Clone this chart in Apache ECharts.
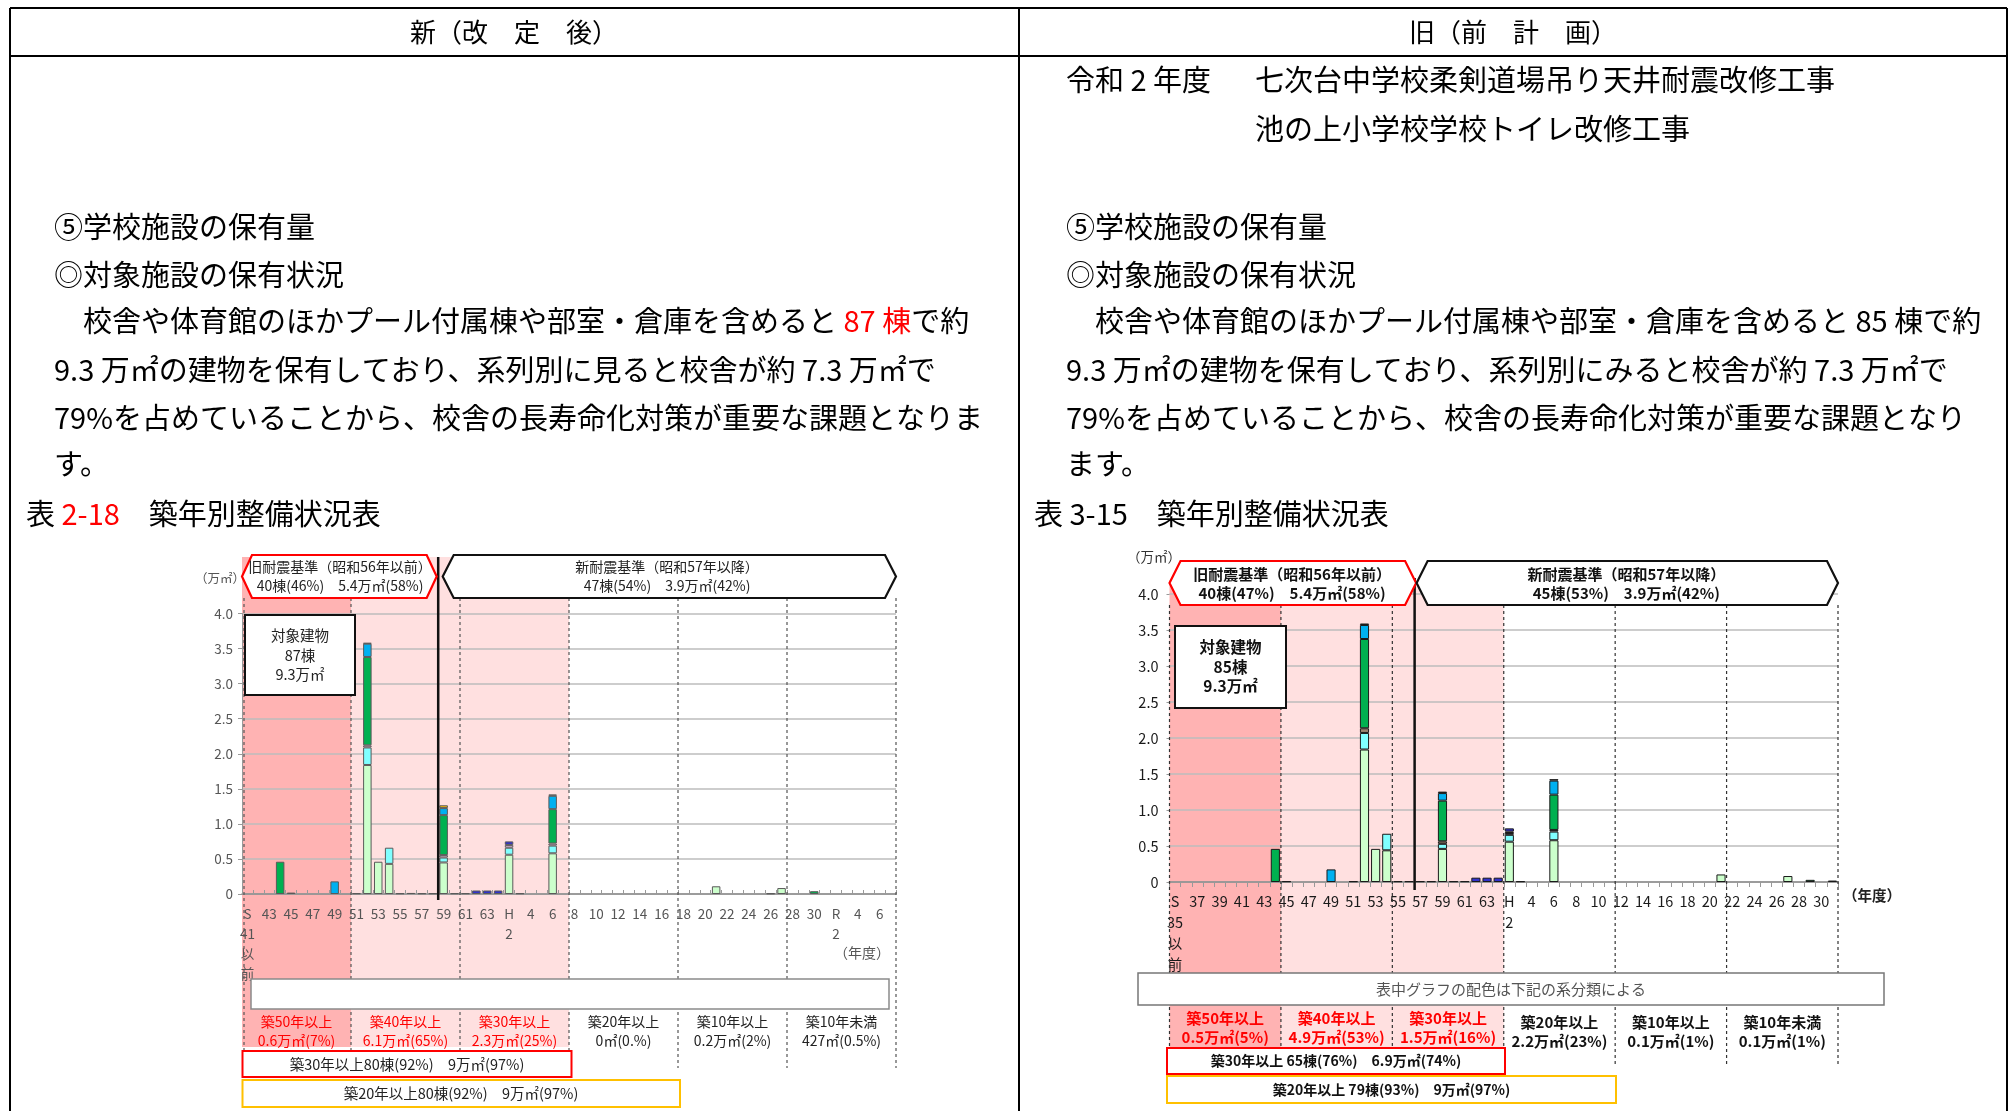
<!DOCTYPE html>
<html>
<head>
<meta charset="utf-8">
<script src="https://cdn.jsdelivr.net/npm/echarts@6/dist/echarts.min.js"></script>
<style>
  html, body { margin: 0; padding: 0; background: #fff; }
  #main { width: 2015px; height: 1111px; }
</style>
</head>
<body>
<div id="main"></div>
<script>
// ---- categories (fiscal years of construction) ----
const yearsNew = ['S41以前','S42','S43','S44','S45','S46','S47','S48','S49','S50','S51','S52','S53','S54','S55','S56','S57','S58','S59','S60','S61','S62','S63',
  'H1','H2','H3','H4','H5','H6','H7','H8','H9','H10','H11','H12','H13','H14','H15','H16','H17','H18','H19','H20','H21','H22','H23','H24','H25','H26','H27','H28','H29','H30',
  'R1','R2','R3','R4','R5','R6','R7'];
const yearsOld = ['S35以前','S36','S37','S38','S39','S40','S41','S42','S43','S44','S45','S46','S47','S48','S49','S50','S51','S52','S53','S54','S55','S56','S57','S58','S59','S60','S61','S62','S63',
  'H1','H2','H3','H4','H5','H6','H7','H8','H9','H10','H11','H12','H13','H14','H15','H16','H17','H18','H19','H20','H21','H22','H23','H24','H25','H26','H27','H28','H29','H30','H31'];

// tick labels, one for every second year
const ticksNew = ['S\n41\n以\n前','43','45','47','49','51','53','55','57','59','61','63','H\n2','4','6','8','10','12','14','16','18','20','22','24','26','28','30','R\n2','4','6'];
const ticksOld = ['S\n35\n以\n前','37','39','41','43','45','47','49','51','53','55','57','59','61','63','H\n2','4','6','8','10','12','14','16','18','20','22','24','26','28','30'];

// ---- floor area by building group (万㎡), revised plan ----
const newKousha = [['S52',1.84],['S53',0.46],['S54',0.43],['S59',0.45],['H2',0.56],['H6',0.58],['H21',0.11],['H27',0.085]];
const newCyan   = [['S52',0.25],['S54',0.23],['S59',0.07],['H2',0.10],['H6',0.11]];
const newThin   = [['S52',0.03],['S59',0.035],['H2',0.04],['H6',0.03]];
const newGreen  = [['S44',0.46],['S52',1.26],['S59',0.57],['H6',0.49],['H30',0.04]];
const newBlue   = [['S49',0.18],['S52',0.19],['S59',0.10],['H6',0.19]];
const newOrange = [['S59',0.04]];
const newNavy   = [['S62',0.05],['S63',0.05],['H1',0.05],['H2',0.05]];
const newOther  = [['S45',0.02],['S51',0.01],['S52',0.01],['S55',0.01],['S56',0.015],['S57',0.01],['S58',0.01],['S60',0.01],['S61',0.01],['H3',0.01],['H6',0.02],['H26',0.008]];

// ---- floor area by building group (万㎡), previous plan ----
const oldKousha = [['S52',1.84],['S53',0.46],['S54',0.44],['S59',0.46],['H2',0.56],['H6',0.58],['H21',0.105],['H27',0.083]];
const oldCyan   = [['S52',0.23],['S54',0.23],['S59',0.07],['H2',0.095],['H6',0.12]];
const oldThin   = [['S52',0.065],['S59',0.035],['H2',0.025],['H6',0.023]];
const oldGreen  = [['S44',0.46],['S52',1.24],['S59',0.565],['H6',0.49],['H29',0.03]];
const oldBlue   = [['S49',0.175],['S52',0.195],['S59',0.105],['H6',0.195]];
const oldOrange = [['H2',0.02]];
const oldNavy   = [['S62',0.06],['S63',0.06],['H1',0.06],['H2',0.045]];
const oldOther  = [['S45',0.01],['S51',0.01],['S52',0.02],['S55',0.01],['S56',0.01],['S57',0.01],['S58',0.01],['S59',0.02],['S60',0.01],['S61',0.01],['H3',0.01],['H6',0.02],['H31',0.02]];

const groupNames = ['校舎','校舎（増築）','渡り廊下','屋内運動場','武道場','給食室','プール付属棟','部室・倉庫'];

// age-band captions under each chart
const bandNew = [
  ['築50年以上','0.6万㎡(7%)'],['築40年以上','6.1万㎡(65%)'],['築30年以上','2.3万㎡(25%)'],
  ['築20年以上','0㎡(0.%)'],['築10年以上','0.2万㎡(2%)'],['築10年未満','427㎡(0.5%)']
];
const bandOld = [
  ['築50年以上','0.5万㎡(5%)'],['築40年以上','4.9万㎡(53%)'],['築30年以上','1.5万㎡(16%)'],
  ['築20年以上','2.2万㎡(23%)'],['築10年以上','0.1万㎡(1%)'],['築10年未満','0.1万㎡(1%)']
];

const FONT = '"Noto Sans CJK JP", "Noto Sans", sans-serif';

function toArray(cats, pairs) {
  const arr = cats.map(() => '-');
  pairs.forEach(([k, v]) => { arr[cats.indexOf(k)] = v; });
  return arr;
}

function barSeries(gi, cats, sets, colors, border, width) {
  return sets.map((s, i) => ({
    name: groupNames[i], type: 'bar', xAxisIndex: gi, yAxisIndex: gi,
    stack: 'area' + gi, barWidth: width,
    itemStyle: { color: colors[i], borderColor: border, borderWidth: 1 },
    data: toArray(cats, s)
  }));
}

const colorsNew = ['#CCFFCC','#80FFFF','#E4B8DC','#00B050','#00B0F0','#FFC000','#3333CC','#B49A72'];
const colorsOld = ['#CCFFCC','#80FFFF','#9C8470','#00B050','#00B0F0','#FFC000','#3333CC','#8C8C8C'];

const yFmt = v => (v === 0 ? '0' : v.toFixed(1));

const chart = echarts.init(document.getElementById('main'), null, { width: 2015, height: 1111 });

chart.setOption({
  animation: false,
  backgroundColor: '#fff',
  grid: [
    { left: 242, top: 613.5, width: 654, height: 280.5 },
    { left: 1169.5, top: 594, width: 668.5, height: 288 }
  ],
  xAxis: [
    {
      type: 'category', gridIndex: 0, data: yearsNew,
      axisLine: { lineStyle: { color: '#8c8c8c', width: 1.5 } },
      axisTick: { show: true, interval: 0, inside: true, length: 4, lineStyle: { color: '#999' } },
      axisLabel: {
        interval: 0, margin: 10, color: '#555', fontSize: 13.5, lineHeight: 20, fontFamily: FONT,
        formatter: (v, i) => (i % 2 === 0 ? ticksNew[i / 2] : '')
      },
      splitLine: { show: false }
    },
    {
      type: 'category', gridIndex: 1, data: yearsOld,
      axisLine: { lineStyle: { color: '#8c8c8c', width: 1.5 } },
      axisTick: { show: true, interval: 0, length: 5, lineStyle: { color: '#999' } },
      axisLabel: {
        interval: 0, margin: 9, color: '#1a1a1a', fontSize: 14.5, lineHeight: 21, fontFamily: FONT,
        formatter: (v, i) => (i % 2 === 0 ? ticksOld[i / 2] : '')
      },
      splitLine: { show: false }
    }
  ],
  yAxis: [
    {
      type: 'value', gridIndex: 0, min: 0, max: 4, interval: 0.5,
      axisLine: { show: true, lineStyle: { color: '#999' } },
      axisTick: { show: true, length: 4, lineStyle: { color: '#999' } },
      axisLabel: { formatter: yFmt, color: '#555', fontSize: 13.5, margin: 9, fontFamily: FONT },
      splitLine: { lineStyle: { color: '#bdbdbd', width: 1.5 } }
    },
    {
      type: 'value', gridIndex: 1, min: 0, max: 4, interval: 0.5,
      axisLine: { show: false },
      axisTick: { show: true, length: 3, lineStyle: { color: '#999' } },
      axisLabel: { formatter: yFmt, color: '#1a1a1a', fontSize: 14.5, margin: 11, fontFamily: FONT },
      splitLine: { lineStyle: { color: '#bdbdbd', width: 1.5 } }
    }
  ],
  series: [
    ...barSeries(0, yearsNew, [newKousha, newCyan, newThin, newGreen, newBlue, newOrange, newNavy, newOther], colorsNew, '#5a5a5a', '78%'),
    ...barSeries(1, yearsOld, [oldKousha, oldCyan, oldThin, oldGreen, oldBlue, oldOrange, oldNavy, oldOther], colorsOld, '#1a1a1a', '82%')
  ]
});

// ---- helpers for graphic elements ----
function text(x, y, str, o = {}) {
  return {
    type: 'text', z: o.z ?? 30,
    style: {
      x, y, text: str,
      fill: o.color || '#000',
      fontSize: o.size || 29,
      fontFamily: FONT,
      fontWeight: o.weight || 'normal',
      align: o.align || 'left', textAlign: o.align || 'left',
      verticalAlign: 'middle', textVerticalAlign: 'middle',
      lineHeight: o.lh,
      rich: o.rich
    }
  };
}
function line(x1, y1, x2, y2, stroke, w, dash, z) {
  return { type: 'line', z: z ?? 8, shape: { x1, y1, x2, y2 }, style: { stroke, lineWidth: w, lineDash: dash || null } };
}
function rect(x, y, w, h, o) {
  return { type: 'rect', z: o.z ?? 20, shape: { x, y, width: w, height: h },
    style: { fill: o.fill || '#fff', stroke: o.stroke || null, lineWidth: o.lw || 0 } };
}
function hexagon(x0, x1, yt, yb, tip, stroke) {
  const ym = (yt + yb) / 2;
  return { type: 'polygon', z: 20,
    shape: { points: [[x0, ym], [x0 + tip, yt], [x1 - tip, yt], [x1, ym], [x1 - tip, yb], [x0 + tip, yb]] },
    style: { fill: '#fff', stroke, lineWidth: 2.2 } };
}
// pixel x of the boundary before category k
function edgeFn(gi) {
  const a = chart.convertToPixel({ gridIndex: gi }, [0, 0])[0];
  const b = chart.convertToPixel({ gridIndex: gi }, [1, 0])[0];
  const w = b - a;
  return k => a - w / 2 + k * w;
}

function buildGraphics() {
  const g = [];
  const red = '#FF0000';

  // document frame
  g.push(line(10, 8, 2007, 8, '#000', 2, null, 1));
  g.push(line(10, 56, 2007, 56, '#000', 2, null, 1));
  g.push(line(10, 8, 10, 1111, '#000', 2, null, 1));
  g.push(line(1019, 8, 1019, 1111, '#000', 2, null, 1));
  g.push(line(2007, 8, 2007, 1111, '#000', 2, null, 1));
  g.push(text(514, 32, '新（改　定　後）', { size: 26, align: 'center' }));
  g.push(text(1513, 32, '旧（前　計　画）', { size: 26, align: 'center' }));

  // left column body
  const rr = { r: { fill: red, fontSize: 29, fontFamily: FONT } };
  g.push(text(54, 227, '⑤学校施設の保有量'));
  g.push(text(54, 275, '◎対象施設の保有状況'));
  g.push(text(54, 321, '　校舎や体育館のほかプール付属棟や部室・倉庫を含めると {r|87 棟}で約', { rich: rr }));
  g.push(text(54, 370, '9.3 万㎡の建物を保有しており、系列別に見ると校舎が約 7.3 万㎡で'));
  g.push(text(54, 418, '79%を占めていることから、校舎の長寿命化対策が重要な課題となりま'));
  g.push(text(54, 464, 'す。'));
  g.push(text(26, 514, '表 {r|2-18}　築年別整備状況表', { rich: rr }));

  // right column body
  g.push(text(1066, 80, '令和 2 年度'));
  g.push(text(1255, 80, '七次台中学校柔剣道場吊り天井耐震改修工事'));
  g.push(text(1255, 129, '池の上小学校学校トイレ改修工事'));
  g.push(text(1066, 227, '⑤学校施設の保有量'));
  g.push(text(1066, 275, '◎対象施設の保有状況'));
  g.push(text(1066, 321, '　校舎や体育館のほかプール付属棟や部室・倉庫を含めると 85 棟で約'));
  g.push(text(1066, 370, '9.3 万㎡の建物を保有しており、系列別にみると校舎が約 7.3 万㎡で'));
  g.push(text(1066, 418, '79%を占めていることから、校舎の長寿命化対策が重要な課題となり'));
  g.push(text(1066, 464, 'ます。'));
  g.push(text(1034, 514, '表 3-15　築年別整備状況表'));

  // ---- revised chart decorations ----
  const eN = edgeFn(0);
  g.push(rect(eN(0), 557, eN(10) - eN(0), 490, { fill: '#FFB3B3', z: -10 }));
  g.push(rect(eN(10), 557, eN(30) - eN(10), 490, { fill: '#FFE0E0', z: -10 }));
  [0, 10, 20, 30, 40, 50, 60].forEach(k => {
    const x = k === 0 ? eN(0) + 2 : eN(k);
    g.push(line(x, 598, x, k <= 30 ? 1050 : 1068, '#555', 1.2, [3, 3], 5));
  });
  g.push(line(eN(18), 557, eN(18), 900, '#111', 2.5, null, 6));
  g.push(hexagon(eN(0), eN(18) - 1.5, 555, 598, 10, red));
  g.push(hexagon(eN(18) + 4.5, eN(60), 555, 598, 11, '#111'));
  g.push(text((eN(0) + eN(18)) / 2, 576.5, '旧耐震基準（昭和56年以前）\n40棟(46%)　5.4万㎡(58%)', { size: 14, color: '#222', align: 'center', lh: 19 }));
  g.push(text((eN(18) + eN(60)) / 2, 576.5, '新耐震基準（昭和57年以降）\n47棟(54%)　3.9万㎡(42%)', { size: 14, color: '#222', align: 'center', lh: 19 }));
  g.push(rect(245, 615, 110, 80, { stroke: '#111', lw: 2 }));
  g.push(text(300, 655, '対象建物\n87棟\n9.3万㎡', { size: 14.5, color: '#222', align: 'center', lh: 19.5 }));
  g.push(text(220, 578, '（万㎡）', { size: 12.5, color: '#555', align: 'center' }));
  g.push(text(862, 953, '（年度）', { size: 14, color: '#555', align: 'center' }));
  g.push(rect(251, 979, 638, 30, { stroke: '#8a8a8a', lw: 1.5 }));
  bandNew.forEach((b, i) => {
    const cx = (eN(i * 10) + eN(i * 10 + 10)) / 2;
    g.push(text(cx, 1031, b[0] + '\n' + b[1], { size: 14, color: i < 3 ? red : '#222', align: 'center', lh: 18.5 }));
  });
  g.push(rect(242.5, 1051, 329, 26, { stroke: red, lw: 2 }));
  g.push(text(407, 1064, '築30年以上80棟(92%)　9万㎡(97%)', { size: 14.5, color: '#222', align: 'center' }));
  g.push(rect(242.5, 1080, 437.5, 27, { stroke: '#FFC000', lw: 2 }));
  g.push(text(461, 1093.5, '築20年以上80棟(92%)　9万㎡(97%)', { size: 14.5, color: '#222', align: 'center' }));

  // ---- previous chart decorations ----
  const eO = edgeFn(1);
  g.push(rect(eO(0), 580, eO(10) - eO(0), 467, { fill: '#FFB3B3', z: -10 }));
  g.push(rect(eO(10), 580, eO(30) - eO(10), 467, { fill: '#FFE0E0', z: -10 }));
  [0, 10, 20, 30, 40, 50, 60].forEach(k => {
    g.push(line(eO(k), 605, eO(k), k <= 30 ? 1047 : 1064, '#333', 1.2, [3, 3], 5));
  });
  g.push(line(eO(22), 578, eO(22), 890, '#111', 2.5, null, 6));
  g.push(hexagon(eO(0), eO(22) + 1.5, 561, 605, 11, red));
  g.push(hexagon(eO(22) + 2, eO(60), 561, 605, 11, '#111'));
  g.push(text((eO(0) + eO(22)) / 2, 584, '旧耐震基準（昭和56年以前）\n40棟(47%)　5.4万㎡(58%)', { size: 15, weight: 'bold', color: '#111', align: 'center', lh: 19 }));
  g.push(text((eO(22) + eO(60)) / 2, 584, '新耐震基準（昭和57年以降）\n45棟(53%)　3.9万㎡(42%)', { size: 15, weight: 'bold', color: '#111', align: 'center', lh: 19 }));
  g.push(rect(1175, 626, 111, 82, { stroke: '#111', lw: 2 }));
  g.push(text(1230.5, 667, '対象建物\n85棟\n9.3万㎡', { size: 15.5, weight: 'bold', color: '#111', align: 'center', lh: 19.5 }));
  g.push(text(1154, 557, '（万㎡）', { size: 13.5, color: '#333', align: 'center' }));
  g.push(text(1872, 895, '（年度）', { size: 14.5, weight: 'bold', color: '#222', align: 'center' }));
  g.push(rect(1138, 973, 746, 32, { stroke: '#777', lw: 1.5 }));
  g.push(text(1511, 989, '表中グラフの配色は下記の系分類による', { size: 15, color: '#555', align: 'center' }));
  bandOld.forEach((b, i) => {
    const cx = (eO(i * 10) + eO(i * 10 + 10)) / 2;
    g.push(text(cx, i < 3 ? 1027.5 : 1032, b[0] + '\n' + b[1], { size: 15, weight: 'bold', color: i < 3 ? red : '#111', align: 'center', lh: 19 }));
  });
  g.push(rect(1167, 1048, 338, 26, { stroke: red, lw: 2 }));
  g.push(text(1336, 1061, '築30年以上 65棟(76%)　6.9万㎡(74%)', { size: 14, weight: 'bold', color: '#111', align: 'center' }));
  g.push(rect(1167, 1076, 449, 27, { stroke: '#FFC000', lw: 2 }));
  g.push(text(1391.5, 1089.5, '築20年以上 79棟(93%)　9万㎡(97%)', { size: 14, weight: 'bold', color: '#111', align: 'center' }));

  return g;
}

chart.setOption({ graphic: { elements: buildGraphics() } });
</script>
</body>
</html>
